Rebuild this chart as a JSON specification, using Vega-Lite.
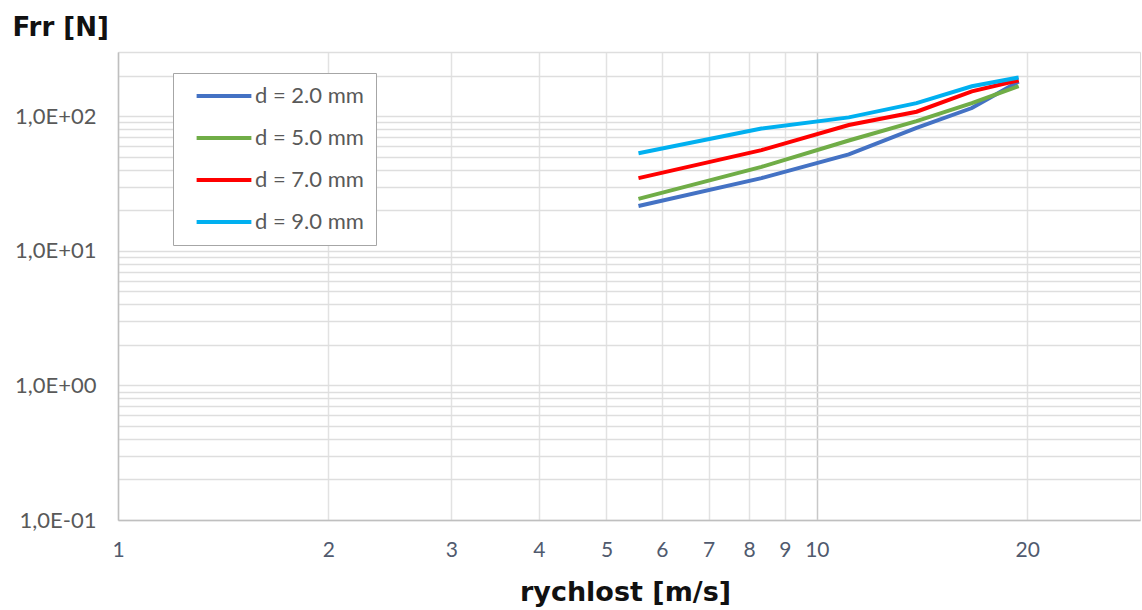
{
  "$schema": "https://vega.github.io/schema/vega-lite/v6.json",
  "autosize": "none",
  "width": 1022,
  "height": 468,
  "padding": {"left": 118, "top": 52, "right": 2, "bottom": 90},
  "background": "white",
  "config": {
    "view": {"stroke": "#d9d9d9", "strokeWidth": 1},
    "axis": {"labelFont": "Lato", "titleFont": "DejaVu Sans", "domainColor": "#bfbfbf", "domainWidth": 1.5, "ticks": false}
  },
  "data": {
    "values": [
      {"series": "d = 2.0 mm", "v": 5.556, "F": 21.5},
      {"series": "d = 2.0 mm", "v": 8.333, "F": 34.7},
      {"series": "d = 2.0 mm", "v": 11.111, "F": 52},
      {"series": "d = 2.0 mm", "v": 13.889, "F": 82},
      {"series": "d = 2.0 mm", "v": 16.667, "F": 115},
      {"series": "d = 2.0 mm", "v": 19.444, "F": 181},
      {"series": "d = 5.0 mm", "v": 5.556, "F": 24.3},
      {"series": "d = 5.0 mm", "v": 8.333, "F": 42},
      {"series": "d = 5.0 mm", "v": 11.111, "F": 66},
      {"series": "d = 5.0 mm", "v": 13.889, "F": 92},
      {"series": "d = 5.0 mm", "v": 16.667, "F": 125},
      {"series": "d = 5.0 mm", "v": 19.444, "F": 167},
      {"series": "d = 7.0 mm", "v": 5.556, "F": 34.7},
      {"series": "d = 7.0 mm", "v": 8.333, "F": 56},
      {"series": "d = 7.0 mm", "v": 11.111, "F": 86},
      {"series": "d = 7.0 mm", "v": 13.889, "F": 108},
      {"series": "d = 7.0 mm", "v": 16.667, "F": 153},
      {"series": "d = 7.0 mm", "v": 19.444, "F": 185},
      {"series": "d = 9.0 mm", "v": 5.556, "F": 53},
      {"series": "d = 9.0 mm", "v": 8.333, "F": 81},
      {"series": "d = 9.0 mm", "v": 11.111, "F": 98},
      {"series": "d = 9.0 mm", "v": 13.889, "F": 125},
      {"series": "d = 9.0 mm", "v": 16.667, "F": 167},
      {"series": "d = 9.0 mm", "v": 19.444, "F": 194}
    ]
  },
  "mark": {"type": "line", "strokeWidth": 4, "interpolate": "linear"},
  "encoding": {
    "x": {
      "field": "v", "type": "quantitative",
      "scale": {"type": "log", "domain": [1, 29], "nice": false, "zero": false},
      "axis": {
        "values": [1, 2, 3, 4, 5, 6, 7, 8, 9, 10, 20],
        "format": "d",
        "labelFlush": false,
        "labelOverlap": false,
        "labelFontSize": 21,
        "labelColor": "#505a6e",
        "labelPadding": 19,
        "gridColor": {"condition": {"test": "datum.value == 10", "value": "#c8c8c8"}, "value": "#e2e2e2"},
        "gridWidth": 1.5,
        "title": "rychlost [m/s]",
        "titleFontSize": 27,
        "titleFontWeight": "bold",
        "titleColor": "#111111",
        "titleBaseline": "alphabetic",
        "titleX": 507,
        "titleY": 80
      }
    },
    "y": {
      "field": "F", "type": "quantitative",
      "scale": {"type": "log", "domain": [0.1, 300], "nice": false, "zero": false},
      "axis": {
        "values": [0.1, 0.2, 0.3, 0.4, 0.5, 0.6, 0.7, 0.8, 0.9, 1, 2, 3, 4, 5, 6, 7, 8, 9, 10, 20, 30, 40, 50, 60, 70, 80, 90, 100, 200, 300],
        "labelExpr": "datum.value == 100 ? '1,0E+02' : datum.value == 10 ? '1,0E+01' : datum.value == 1 ? '1,0E+00' : datum.value == 0.1 ? '1,0E-01' : ''",
        "labelOverlap": false,
        "labelFontSize": 22,
        "labelColor": "#595959",
        "labelPadding": 22,
        "gridColor": "#dedede",
        "gridWidth": 1.5,
        "title": "Frr [N]",
        "titleFontSize": 26,
        "titleFontWeight": "bold",
        "titleColor": "#111111",
        "titleAngle": 0,
        "titleAlign": "left",
        "titleBaseline": "alphabetic",
        "titleX": -106,
        "titleY": -17
      }
    },
    "color": {
      "field": "series", "type": "nominal",
      "scale": {"domain": ["d = 2.0 mm", "d = 5.0 mm", "d = 7.0 mm", "d = 9.0 mm"], "range": ["#4472c4", "#70ad47", "#ff0000", "#00b0f0"]},
      "legend": {
        "title": null,
        "orient": "none",
        "legendX": 55,
        "legendY": 21,
        "symbolType": "M-10,0H10",
        "symbolSize": 30,
        "symbolStrokeWidth": 4,
        "symbolOffset": 28,
        "labelOffset": 20,
        "labelFont": "Lato",
        "labelFontSize": 22,
        "labelColor": "#595959",
        "rowPadding": 20,
        "padding": 12,
        "strokeColor": "#a6a6a6",
        "fillColor": "white"
      }
    }
  }
}
